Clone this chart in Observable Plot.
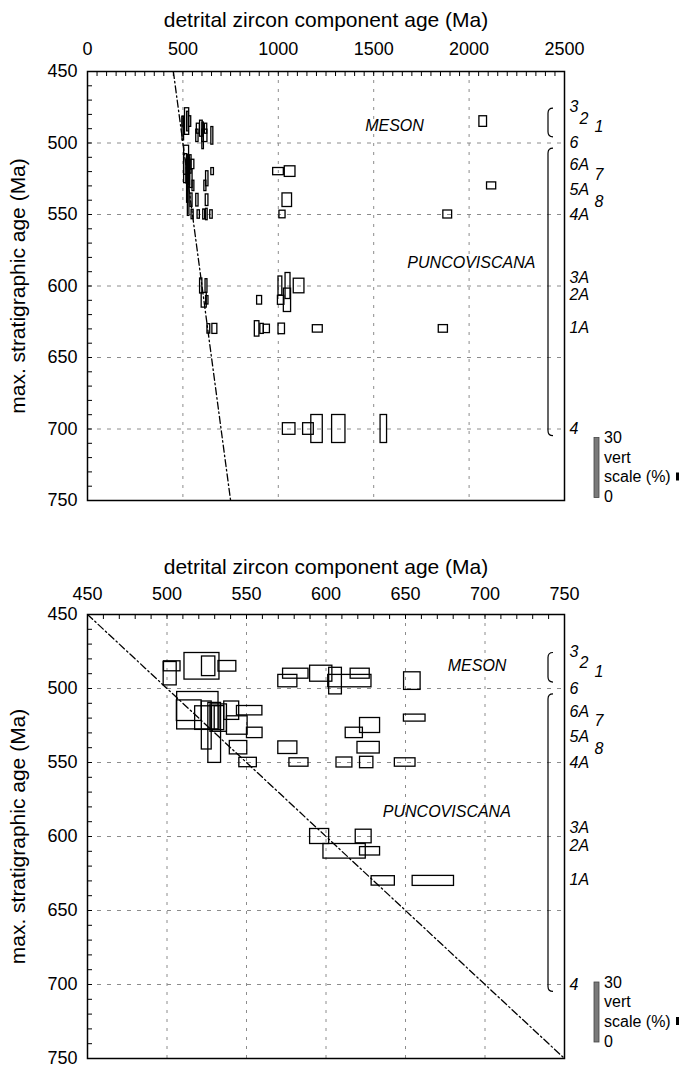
<!DOCTYPE html>
<html><head><meta charset="utf-8">
<script src="https://cdn.jsdelivr.net/npm/d3@7"></script>
<script src="https://cdn.jsdelivr.net/npm/@observablehq/plot@0.6"></script>
<style>
body{margin:0;background:#fff;}
#chart svg{display:block;overflow:visible;}
</style>
</head><body><div id="chart"></div>
<script>
// ---- data: detrital zircon components (centre age, ± half-width, max. stratigraphic age, proportion %) ----
const compAge  = [503.3,502,522,526.2,538,576,581,597,606,615,621.5,654.3,2074,
                  519.4,514,540.7,552,523,532.5,530.5,533,655.8,1001,1062,525,544.2,627.7,530,555.2,617.8,2118,
                  545,576,626.8,1047,551,583,611.6,625.6,649.8,1022,1888,
                  596,623.7,1011,1051,1109,611.7,627.7,902,1015,1048,
                  636,667.5,889,915,940,1018,1207,1865,
                  1057,1158,1203,1317,1553];
const ageErr   = [5.2,4.1,11,4.2,5.6,6,8,7,4,13.6,6,5.2,20,
                  13,7.8,4.7,8,5.3,5.2,2.5,3,6.8,28,28,3.1,6.5,6.3,4,4.9,5.4,24,
                  5.5,6,7,25,5.5,6,5,4.2,6.5,16,23,
                  6,5,10,13,28,13.3,6.3,13,17,19,
                  7.3,13,12,9,16,17,26,24,
                  33,28,30,35,17];
const stratAge = [485,490,485,485,485,495,490,490,495,495,490,495,485,
                  515,515,515,515,520,520,520,520,520,520,520,525,525,525,530,530,530,530,
                  540,540,540,540,550,550,550,550,550,550,550,
                  600,600,600,600,600,610,610,610,610,610,
                  630,630,630,630,630,630,630,630,
                  700,700,700,700,700];
const pct      = [5,11.7,13.3,9.8,5.3,6.2,5,8,13.3,6.2,5,8.8,5.3,
                  18.7,10.3,9.2,4.7,11.8,13.7,12,12,3.5,3.6,5.3,24,9.2,7.5,30,5.2,5.2,3.5,
                  6.7,6.3,5.8,6.8,4.7,4.2,5,5.7,4.2,3.8,4,
                  7.5,6.8,9.5,13,7.3,7.3,4.2,4.3,4.5,11.7,
                  4.7,5,7.7,5,4.2,5.3,3.7,3.8,
                  5.8,5.8,14,14,14];

const sampleLabels   = ["3","2","1","6","6A","7","5A","8","4A","3A","2A","1A","4"];
const sampleLabelAge = [475,483,489,500,515.5,522,533,541,550,594,606.5,629,700];
const groupNames  = ["MESON","PUNCOVISCANA"];
const groupRanges = [[476,496],[504,705]];
const oneToOne = [450, 750];
const xTicksTop = [0,500,1000,1500,2000,2500];
const xTicksBottom = [450,500,550,600,650,700,750];
const yTicks = [450,500,550,600,650,700,750];
const legendLabels = ["30","vert","scale (%)","0"];
const xTitle = "detrital zircon component age (Ma)";
const yTitle = "max. stratigraphic age (Ma)";

// ---- styling / layout config ----
const labelOffset = {"2":15,"1":30,"7":30,"8":30};
const FONT = "Liberation Sans, Arial, Helvetica, sans-serif";

function annotations(cfg) {
  return (index, scales, values, dims) => {
    const g = d3.create("svg:g");
    const right = dims.width - dims.marginRight;
    const y = scales.y;
    const bx = right - 16;
    for (const [a, b] of groupRanges) {
      const y1 = y(a), y2 = y(b), r = 5;
      g.append("path")
        .attr("d", `M${bx+5},${y1}Q${bx},${y1} ${bx},${y1+r}L${bx},${y2-r}Q${bx},${y2} ${bx+5},${y2}`)
        .attr("fill","none").attr("stroke","black").attr("stroke-width",1.2);
    }
    const top = y(700) + cfg.legendOffset;
    g.append("rect").attr("x", right+30).attr("y", top).attr("width",5).attr("height",60)
      .attr("fill","#7a7a7a").attr("stroke","#444").attr("stroke-width",0.8);
    const offs = [0,19.5,39,59];
    legendLabels.forEach((t,i) => g.append("text")
      .attr("x", right+40).attr("y", top + offs[i]).attr("dy","0.35em")
      .attr("text-anchor","start")
      .attr("font-size",16).attr("font-family",FONT).attr("fill","black").text(t));
    g.append("rect").attr("x", right+112).attr("y", top+35).attr("width",3).attr("height",8).attr("fill","black");
    return g.node();
  };
}

function panel(cfg) {
  const width = 690, marginLeft = 87, marginRight = 126;
  const {height, marginTop, marginBottom, xDomain} = cfg;
  const innerH = height - marginTop - marginBottom;
  const innerW = width - marginLeft - marginRight;
  const pxPerMa = innerH / 300;
  const boxes = compAge.map((a,i) => ({
    x1: a - ageErr[i], x2: a + ageErr[i],
    y1: stratAge[i] - pct[i]/pxPerMa, y2: stratAge[i] + pct[i]/pxPerMa
  })).filter(d => d.x1 >= xDomain[0] && d.x2 <= xDomain[1]);
  const minorX = d3.range(xDomain[0], xDomain[1] + 1e-6, cfg.minorStep);
  const minorY = d3.range(450, 750 + 1e-6, 10);
  const gridX = cfg.xTicks.filter(v => v > xDomain[0] && v < xDomain[1]);
  const gridY = yTicks.filter(v => v > 450 && v < 750);
  const labelMarks = [...new Set(sampleLabels.map(l => labelOffset[l] ?? 5))].map(off =>
    Plot.text(sampleLabels.filter(l => (labelOffset[l] ?? 5) === off), {
      y: l => sampleLabelAge[sampleLabels.indexOf(l)], text: d => d,
      frameAnchor: "right", dx: off, textAnchor: "start", lineAnchor: "middle",
      fontStyle: "italic", fontSize: 16, fill: "black"
    }));
  return Plot.plot({
    width, height, marginTop, marginBottom, marginLeft, marginRight,
    style: {fontFamily: FONT, fontSize: "18px", color: "black", background: "white", overflow: "visible"},
    x: {domain: xDomain, axis: "top", ticks: cfg.xTicks, tickSize: 0, tickPadding: cfg.xPad, tickFormat: d => String(d), label: null},
    y: {domain: [450, 750], reverse: true, ticks: yTicks, tickSize: 0, tickPadding: 10, tickFormat: d => String(d), label: null},
    marks: [
      Plot.ruleX(gridX, {stroke: "#8c8c8c", strokeWidth: 1, strokeDasharray: "3,6"}),
      Plot.ruleY(gridY, {stroke: "#8c8c8c", strokeWidth: 1, strokeDasharray: "4,6"}),
      Plot.line(oneToOne, {x: d => d, y: d => d, stroke: "black", strokeWidth: 1.3, strokeDasharray: "7,3,1.5,3", clip: true}),
      Plot.rect(boxes, {x1: "x1", x2: "x2", y1: "y1", y2: "y2", fill: "none", stroke: "black", strokeWidth: 1.3}),
      Plot.ruleX(minorX, {stroke: "black", strokeWidth: 1, insetBottom: innerH - 5}),
      Plot.ruleY(minorY, {stroke: "black", strokeWidth: 1, insetRight: innerW - 5}),
      Plot.frame({stroke: "black", strokeWidth: 1.5}),
      Plot.text([xTitle], {frameAnchor: "top", dy: cfg.titleDy, textAnchor: "middle", lineAnchor: "middle", fontSize: 21, fill: "black"}),
      Plot.text([yTitle], {frameAnchor: "left", rotate: -90, dx: -69, textAnchor: "middle", lineAnchor: "middle", fontSize: 21, fill: "black"}),
      Plot.text(groupNames, {x: (d,i) => cfg.groupX[i], y: (d,i) => cfg.groupY[i], text: d => d,
        fontStyle: "italic", fontSize: 16, fill: "black"}),
      ...labelMarks,
      annotations(cfg)
    ]
  });
}

const chart = document.getElementById("chart");
chart.append(panel({
  height: 535, marginTop: 71, marginBottom: 35, xDomain: [0, 2500], xTicks: xTicksTop, minorStep: 50,
  xPad: 17, titleDy: -51, legendOffset: 9, groupX: [1609, 2012], groupY: [488, 584]
}));
chart.append(panel({
  height: 530, marginTop: 79, marginBottom: 7, xDomain: [450, 750], xTicks: xTicksBottom, minorStep: 10,
  xPad: 15, titleDy: -47, legendOffset: -2, groupX: [695, 676], groupY: [484.5, 583.6]
}));
</script>
</body></html>
